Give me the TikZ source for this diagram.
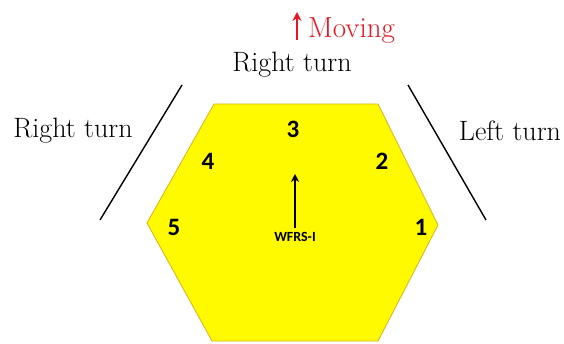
\documentclass[tikz,border=0pt]{standalone}
\usepackage{fontspec}
\usepackage{xcolor}
\usepackage{tikz}
\usetikzlibrary{positioning, arrows.meta}
\newfontfamily\digitfont{Carlito}
\definecolor{hexfill}{HTML}{FFFA00}
\definecolor{hexedge}{HTML}{D9B21C}
\definecolor{movred}{HTML}{E8141E}

\begin{document}
\begin{tikzpicture}[
        x=1pt, y=-1pt,
        turn/.style={font=\fontsize{28}{33}\selectfont, inner sep=0pt},
        slot/.style={font=\digitfont\bfseries\fontsize{25}{28}\selectfont, inner sep=0pt},
        limit/.style={line width=1.4pt},
    ]
        \useasboundingbox (0,0) rectangle (564,344);
        \draw[fill=hexfill, draw=hexedge, line width=0.8pt] (214,104) -- (378,104) -- (438,225) -- (378,341) -- (212,341) -- (147,223) -- cycle;

        \node[slot] (s3) at (293,129) {3};
        \node[slot] (s2) at (382,161) {2};
        \node[slot] (s4) at (208,161) {4};
        \node[slot] (s5) at (174,227) {5};
        \node[slot] (s1) at (421,227) {1};
        \node[font=\digitfont\bfseries\fontsize{14}{16}\selectfont, inner sep=1pt] (wfrs) at (295,237) {WFRS-I};
        \coordinate (head) at (295,174);
        \draw[line width=2pt, -{Stealth[length=8pt, width=8pt]}] (wfrs.north) ++(0,-3) coordinate (tail) -- (head);

        \node[turn] (front) at (292,65) {Right turn};
        \node[turn] (leftside) at (73,131) {Right turn};
        \node[turn] (rightside) at (510,131) {Left turn};
        \node[turn, font=\fontsize{29}{34}\selectfont, text=movred, anchor=west] (moving) at (308,31) {Moving};
        \coordinate (movtail) at (297,40);
        \coordinate (movtip) at (297,12);
        \draw[movred, line width=2.2pt, -{Stealth[length=9pt, width=9pt]}] (movtail) -- (movtip);

        \coordinate (la) at (182,85);
        \coordinate (lb) at (100,220);
        \coordinate (ra) at (408,85);
        \coordinate (rb) at (486,220);
        \draw[limit] (la) -- (lb);
        \draw[limit] (ra) -- (rb);
    \end{tikzpicture}
\end{document}
